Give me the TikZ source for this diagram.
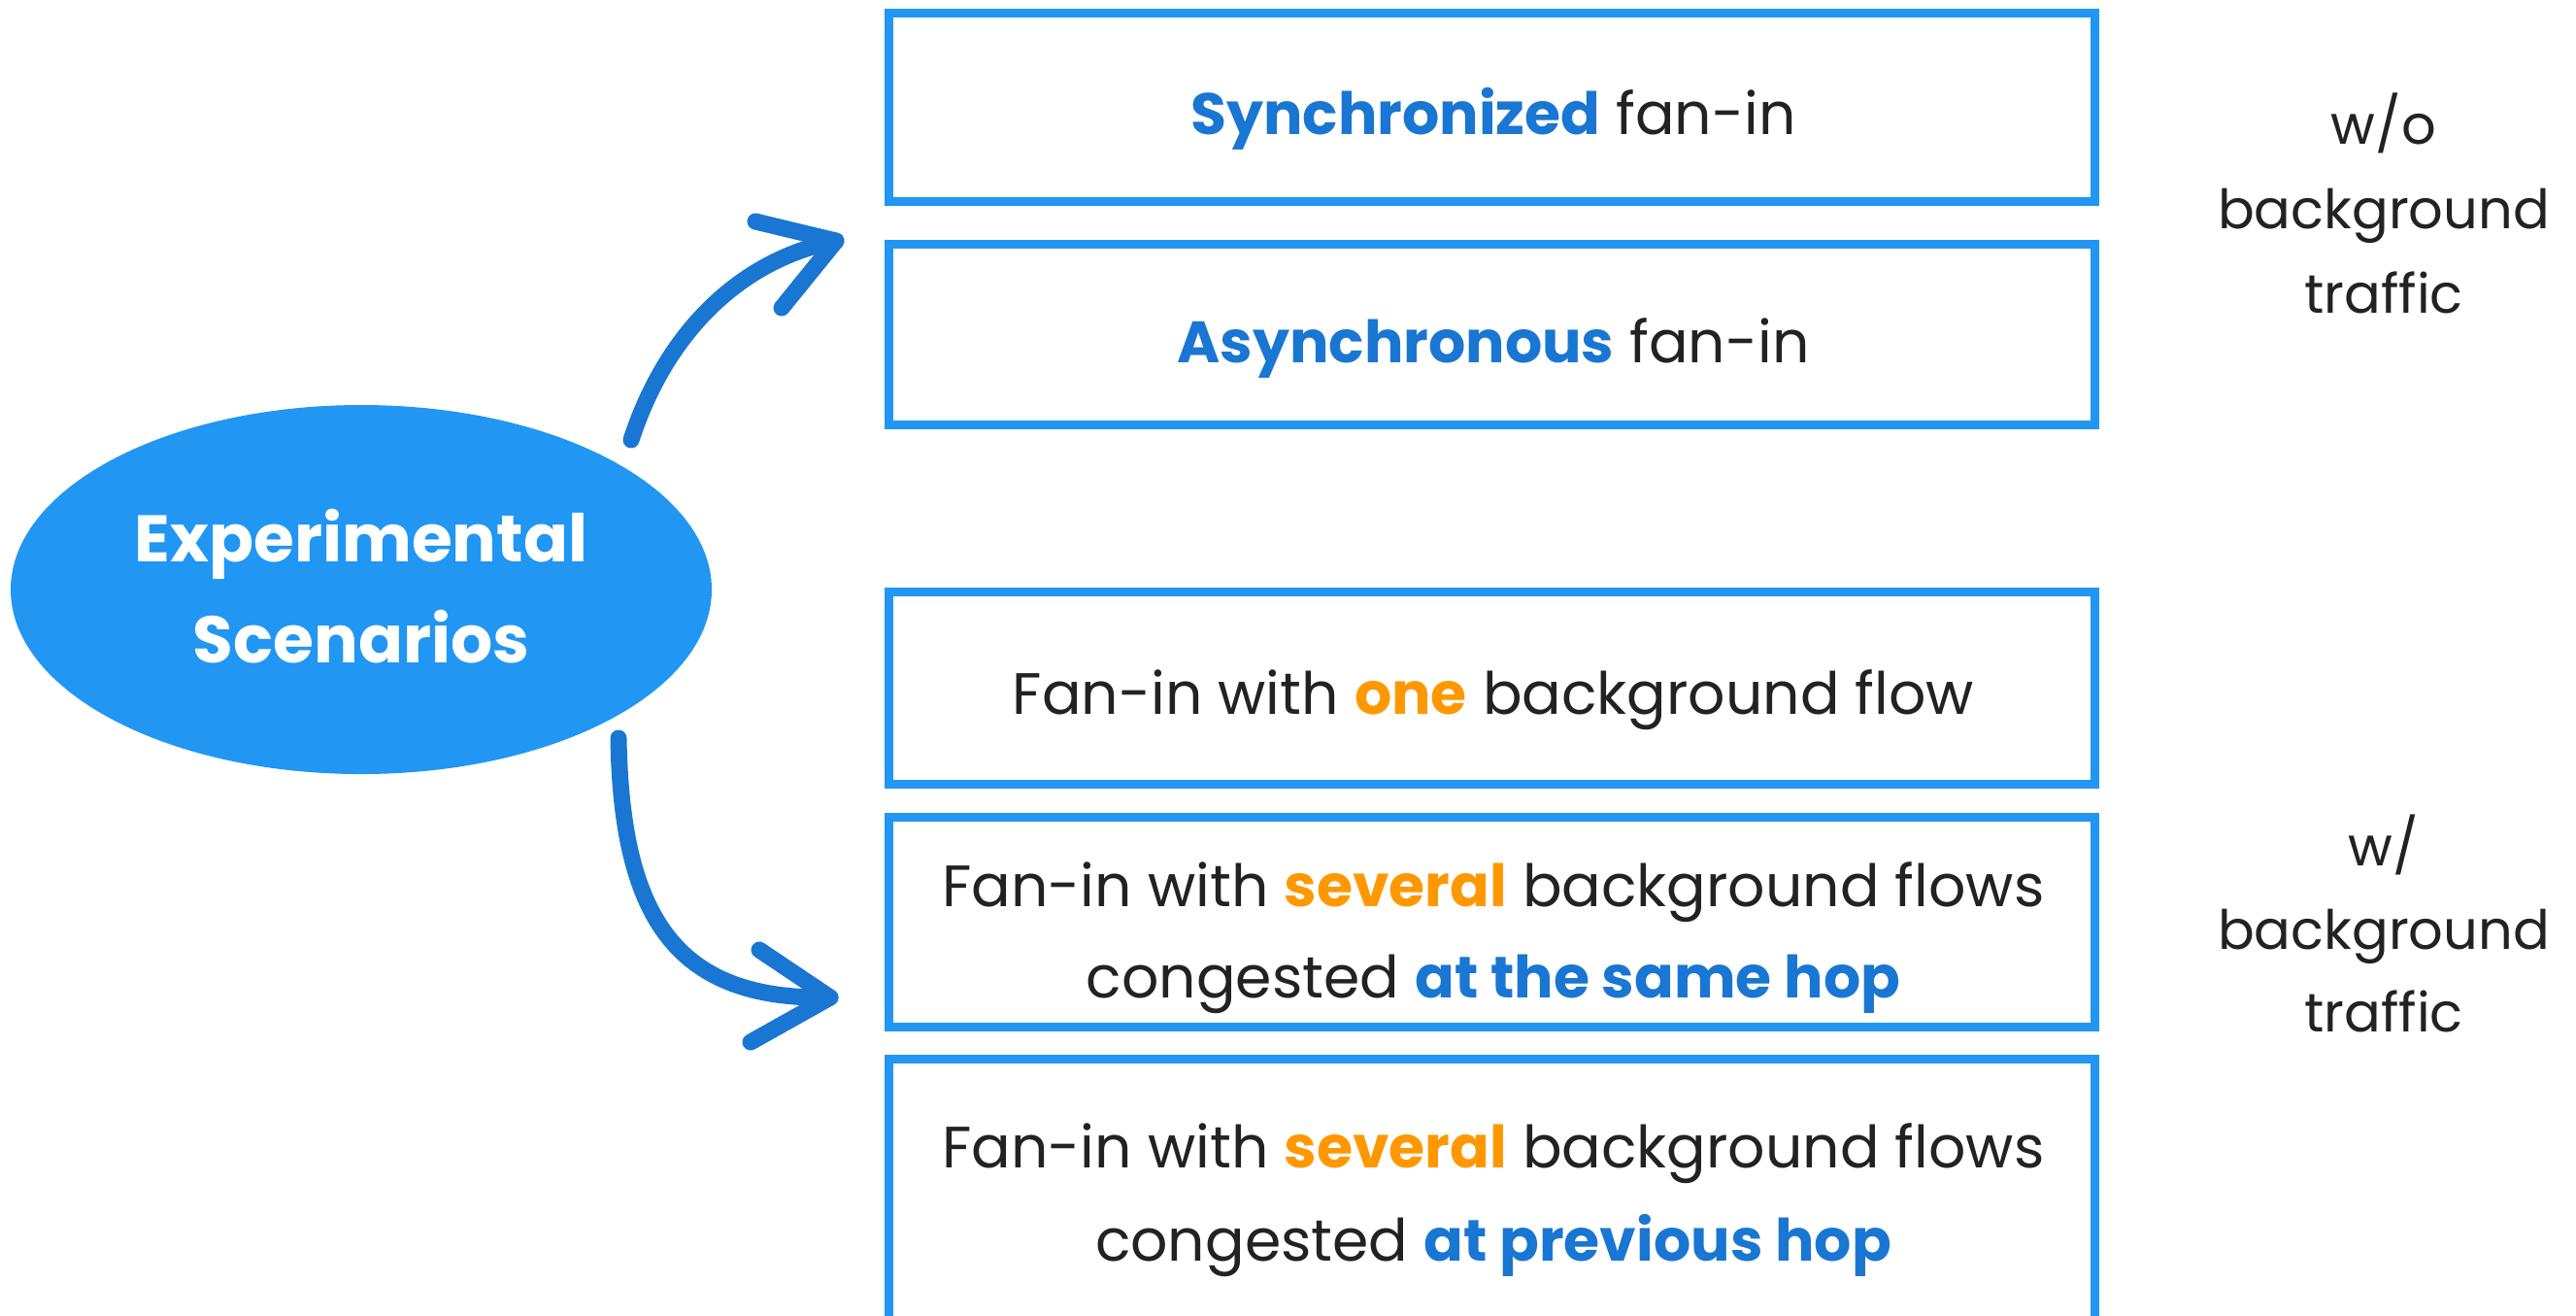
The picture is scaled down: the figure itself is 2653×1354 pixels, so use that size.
\documentclass[tikz,border=0pt]{standalone}
\usepackage{fontspec}
\setmainfont{Poppins}
\usetikzlibrary{shapes.geometric}
\definecolor{boxblue}{HTML}{2196F3}
\definecolor{hiblue}{HTML}{1976D2}
\definecolor{hiorange}{HTML}{FF9800}
\definecolor{ink}{HTML}{222222}
\newcommand{\hb}[1]{\textbf{\textcolor{hiblue}{#1}}}
\newcommand{\ho}[1]{\textbf{\textcolor{hiorange}{#1}}}

\begin{document}
\begin{tikzpicture}[x=0.1mm,y=-0.1mm,
  scenario/.style={draw=boxblue, line width=0.9mm, minimum width=124.2mm, inner sep=0pt},
  boxtext/.style={anchor=base, text=ink, inner sep=0pt, font=\fontsize{17.1}{21}\selectfont},
  sidetext/.style={anchor=base, text=ink, inner sep=0pt, font=\fontsize{15.9}{20}\selectfont},
  hubtext/.style={anchor=base, text=white, inner sep=0pt, font=\fontsize{19.3}{24}\selectfont\bfseries},
  sketch/.style={draw=hiblue, line width=1.7mm, line cap=round, line join=round}]

\useasboundingbox (0,0) rectangle (2653,1354);
\clip (0,0) rectangle (2653,1354);

% central ellipse
\node[ellipse, fill=boxblue, minimum width=72.2mm, minimum height=38mm, inner sep=0pt] (hub) at (372,607) {};
\node[hubtext] (hub1) at (372,578) {Experimental};
\node[hubtext] (hub2) at (372,682) {Scenarios};

% scenario boxes
\node[scenario, minimum height=19.4mm] (b1) at (1536,110) {};
\node[scenario, minimum height=18.6mm] (b2) at (1536,344) {};
\node[scenario, minimum height=19.8mm] (b3) at (1536,708) {};
\node[scenario, minimum height=21.6mm] (b4) at (1536,949) {};
\node[scenario, minimum height=40.9mm] (b5) at (1536,1295) {};

\node[boxtext] (t1) at (1538,138) {\hb{Synchronized} fan-in};
\node[boxtext] (t2) at (1538,373) {\hb{Asynchronous} fan-in};
\node[boxtext] (t3) at (1538,735) {Fan-in with \ho{one} background flow};
\node[boxtext] (t4a) at (1538,933) {Fan-in with \ho{several} background flows};
\node[boxtext] (t4b) at (1538,1027) {congested \hb{at the same hop}};
\node[boxtext] (t5a) at (1538,1202) {Fan-in with \ho{several} background flows};
\node[boxtext] (t5b) at (1538,1298) {congested \hb{at previous hop}};

% side labels
\node[sidetext] (s1a) at (2455,148) {w/o};
\node[sidetext] (s1b) at (2455,235) {background};
\node[sidetext] (s1c) at (2455,322) {traffic};
\node[sidetext] (s2a) at (2455,891) {w/};
\node[sidetext] (s2b) at (2455,977) {background};
\node[sidetext] (s2c) at (2455,1062) {traffic};

% hand-drawn arrows
\coordinate (u0) at (650,453);
\coordinate (u1) at (861,248);
\coordinate (ua) at (778,228);
\coordinate (ub) at (805,317);
\draw[sketch] (u0) .. controls (685,345) and (760,268) .. (u1);
\draw[sketch] (ua) -- (u1) -- (ub);

\coordinate (d0) at (637,760);
\coordinate (d1) at (855,1027);
\coordinate (da) at (782,978);
\coordinate (db) at (773,1073);
\draw[sketch] (d0) .. controls (640,950) and (700,1030) .. (d1);
\draw[sketch] (da) -- (d1) -- (db);
\end{tikzpicture}
\end{document}
